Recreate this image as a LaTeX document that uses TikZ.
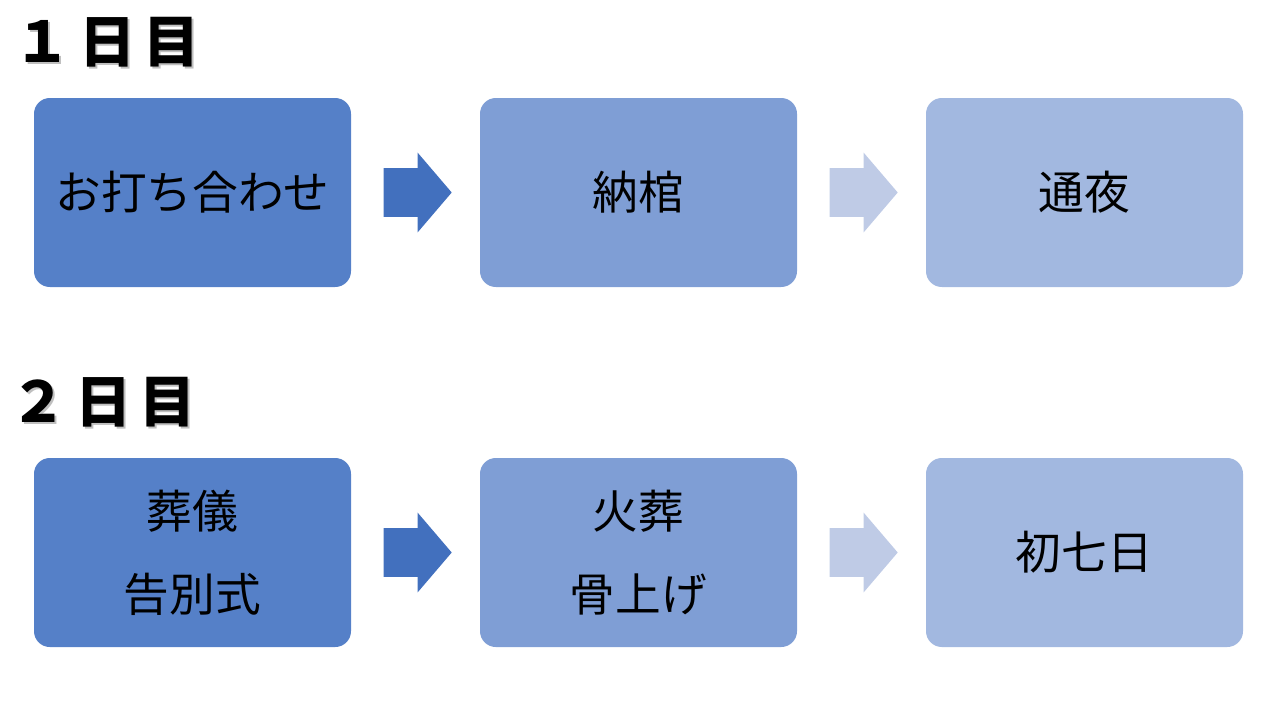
\documentclass[tikz,border=0pt]{standalone}
\usepackage{fontspec}
\newfontfamily\jpfont{Noto Sans CJK JP}
\usetikzlibrary{shapes.arrows, calc}

\definecolor{boxdark}{HTML}{5580C8}
\definecolor{boxmid}{HTML}{7F9ED5}
\definecolor{boxlight}{HTML}{A2B8E0}
\definecolor{arrdark}{HTML}{4270BE}
\definecolor{arrlight}{HTML}{BFCBE6}

\newcommand{\daygap}{\hspace{0.16cm}}

\begin{document}
\begin{tikzpicture}[
  box/.style={rounded corners=9pt, minimum width=6.34cm, minimum height=3.78cm,
    text width=6cm, align=center, inner sep=0pt,
    font=\jpfont\fontsize{26}{47}\selectfont},
  blockarrow/.style={single arrow, anchor=tail, minimum height=1.36cm,
    inner xsep=0pt, inner ysep=0.48cm,
    single arrow head extend=0.31cm, single arrow tip angle=99},
  daytitle/.style={anchor=west, inner sep=0pt,
    font=\jpfont\bfseries\fontsize{32}{40}\selectfont}
]
  \useasboundingbox (0,0) rectangle (25.6,-14.4);

  %% Day titles (with a soft shadow)
  \node[daytitle, black!25] (day1s) at (0.33,-0.88) {１\daygap 日\daygap 目};
  \node[daytitle] (day1) at (0.29,-0.84) {１\daygap 日\daygap 目};
  \node[daytitle, black!25] (day2s) at (0.25,-8.08) {２\daygap 日\daygap 目};
  \node[daytitle] (day2) at (0.21,-8.04) {２\daygap 日\daygap 目};

  %% Day 1
  \node[box, fill=boxdark] (uchiawase) at (3.85,-3.85) {お打ち合わせ};
  \node[box, fill=boxmid] (nokan) at (12.77,-3.85) {納棺};
  \node[box, fill=boxlight] (tsuya) at (21.69,-3.85) {通夜};
  \node[blockarrow, fill=arrdark] (arr1a) at ([xshift=0.64cm]uchiawase.east) {};
  \node[blockarrow, fill=arrlight] (arr1b) at ([xshift=0.64cm]nokan.east) {};

  %% Day 2
  \node[box, fill=boxdark] (sougi) at (3.85,-11.05) {葬儀\\告別式};
  \node[box, fill=boxmid] (kasou) at (12.77,-11.05) {火葬\\骨上げ};
  \node[box, fill=boxlight] (shonanoka) at (21.69,-11.05) {初七日};
  \node[blockarrow, fill=arrdark] (arr2a) at ([xshift=0.64cm]sougi.east) {};
  \node[blockarrow, fill=arrlight] (arr2b) at ([xshift=0.64cm]kasou.east) {};
\end{tikzpicture}
\end{document}
